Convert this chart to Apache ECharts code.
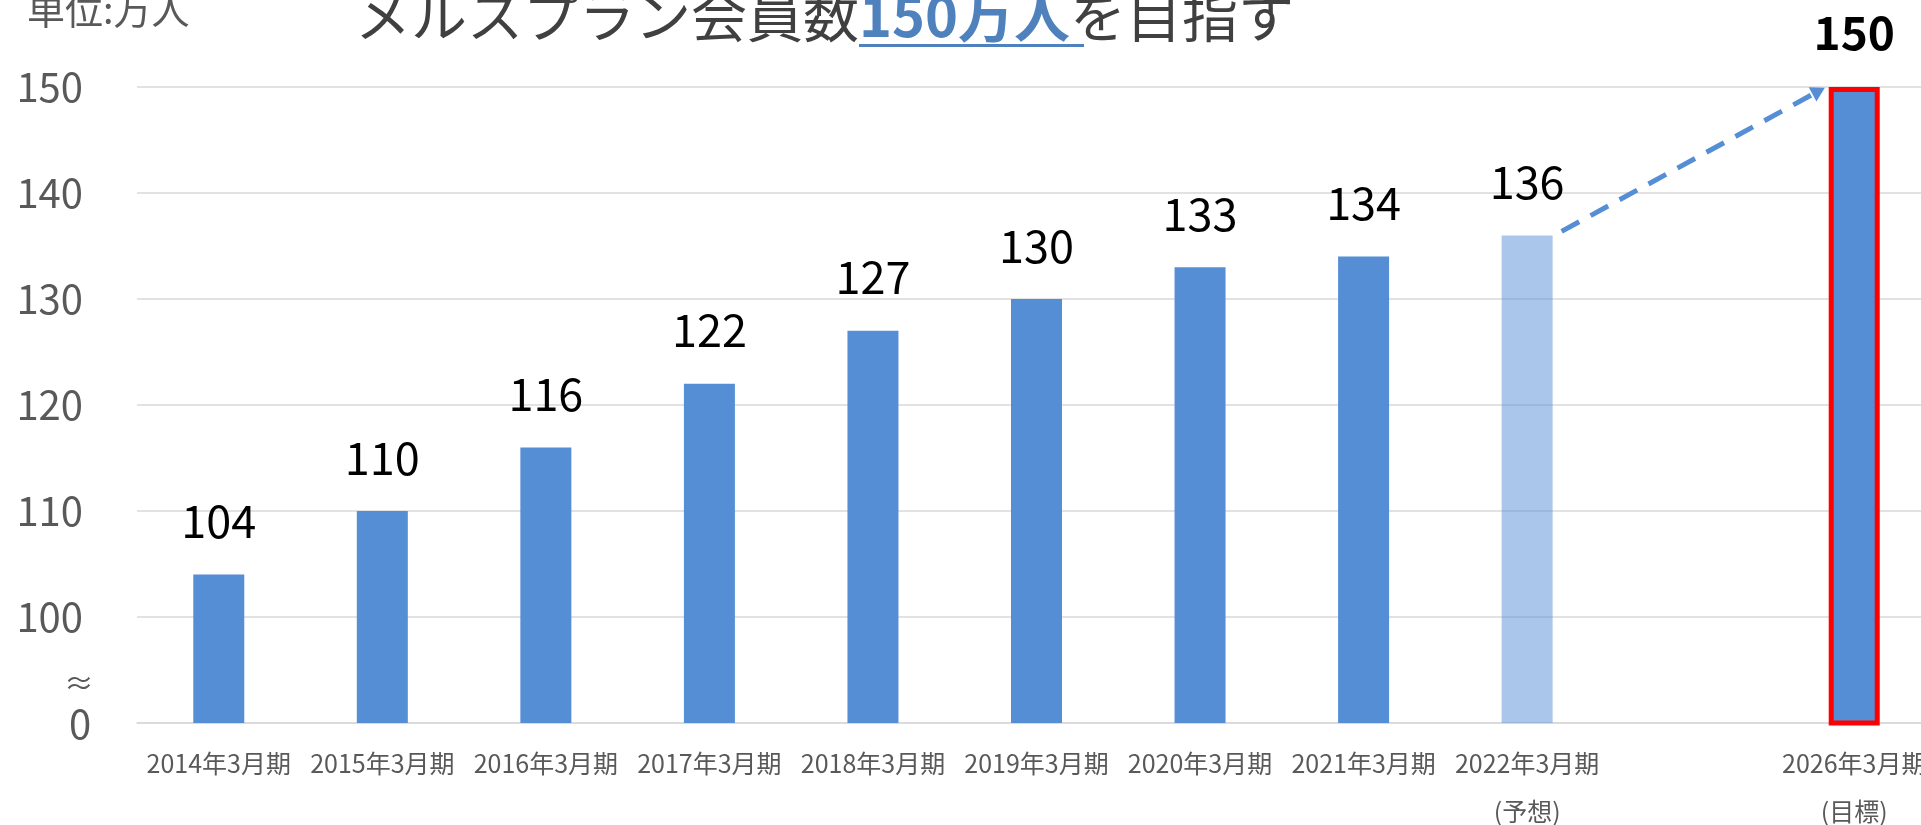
<!DOCTYPE html>
<html>
<head>
<meta charset="utf-8">
<script src="https://cdn.jsdelivr.net/npm/echarts@6/dist/echarts.min.js"></script>
<style>
  html, body { margin: 0; padding: 0; background: #fff; }
  #chart { width: 1921px; height: 825px; }
</style>
</head>
<body>
<div id="chart"></div>
<script>
// Member count by fiscal period (unit: 10k people)
const categories = ['2014年3月期', '2015年3月期', '2016年3月期', '2017年3月期', '2018年3月期',
    '2019年3月期', '2020年3月期', '2021年3月期', '2022年3月期\n(予想)', '', '2026年3月期\n(目標)'];
const members = [104, 110, 116, 122, 127, 130, 133, 134, 136, null, 150];
const forecastIdx = 8;
const targetIdx = 10;

const BLUE = '#558ED5';
const BAR_W = 51;

const el = document.getElementById('chart');
const chart = echarts.init(el);

const seriesData = members.map((v, i) => {
    if (i === forecastIdx) return { value: v, itemStyle: { color: 'rgba(85,142,213,0.5)' } };
    if (i === targetIdx) {
        return {
            value: v,
            itemStyle: { color: BLUE, borderColor: '#FF0000', borderWidth: 5 },
            label: { fontWeight: 'bold', fontSize: 46 }
        };
    }
    return v;
});

const option = {
    animation: false,
    textStyle: { fontFamily: '"Noto Sans CJK JP", "Noto Sans", sans-serif' },
    grid: {
        left: 137,
        right: -15,
        top: 87,
        bottom: 102,
        outerBoundsMode: 'none'
    },
    xAxis: {
        type: 'category',
        data: categories,
        axisTick: { show: false },
        axisLine: { lineStyle: { color: '#D9D9D9', width: 1.5 } },
        axisLabel: {
            interval: 0,
            color: '#595959',
            fontSize: 25,
            lineHeight: 48,
            margin: 16
        }
    },
    yAxis: {
        type: 'value',
        min: 90,
        max: 150,
        interval: 10,
        axisLine: { show: false },
        axisTick: { show: false },
        splitLine: { lineStyle: { color: '#D9D9D9', width: 1.5 } },
        axisLabel: {
            color: '#595959',
            fontSize: 40,
            margin: 54,
            // bottom tick is the broken-axis "0", drawn separately with the ≈ mark
            formatter: v => (v === 90 ? '' : String(v))
        }
    },
    series: [{
        type: 'bar',
        barWidth: BAR_W,
        data: seriesData,
        itemStyle: { color: BLUE },
        label: {
            show: true,
            position: 'top',
            distance: 31,
            color: '#000',
            fontSize: 45
        }
    }]
};

chart.setOption(option);

// dashed arrow from forecast bar to target bar, plus decorations
const p1 = chart.convertToPixel({ gridIndex: 0 }, [forecastIdx, members[forecastIdx]]);
const p2 = chart.convertToPixel({ gridIndex: 0 }, [targetIdx, members[targetIdx]]);
const x1 = p1[0] + BAR_W / 2 + 9, y1 = p1[1] - 4;
const x2 = p2[0] - BAR_W / 2 - 10, y2 = p2[1] + 4;
const base = chart.convertToPixel({ yAxisIndex: 0 }, 90);

chart.setOption({
    series: [{
        markLine: {
            silent: true,
            symbol: ['none', 'triangle'],
            symbolSize: [16, 14],
            label: { show: false },
            lineStyle: { color: BLUE, width: 5, type: [20, 13] },
            data: [[{ x: x1, y: y1 }, { x: x2, y: y2 }]]
        }
    }],
    graphic: [
        {
            type: 'text',
            left: 27,
            top: -9,
            style: { text: '単位:万人', fill: '#595959', font: '38px "Noto Sans CJK JP"' }
        },
        {
            type: 'text',
            x: 355,
            y: 16,
            style: {
                text: '{n|メルスプラン会員数}{b|150万人}{n|を目指す}',
                verticalAlign: 'middle',
                rich: {
                    n: { fill: '#404040', fontSize: 56, fontFamily: '"Noto Sans CJK JP"' },
                    b: { fill: '#4F81BD', fontSize: 56, fontWeight: 'bold', fontFamily: '"Noto Sans CJK JP"' }
                }
            }
        },
        {
            type: 'rect',
            shape: { x: 859, y: 44, width: 225, height: 3 },
            style: { fill: '#4F81BD' }
        },
        {
            type: 'text',
            x: 79,
            y: base - 40,
            style: {
                text: '≈',
                fill: '#595959',
                font: '30px "Noto Sans CJK JP"',
                align: 'center',
                verticalAlign: 'middle'
            }
        },
        {
            type: 'text',
            x: 80,
            y: base + 1,
            style: {
                text: '0',
                fill: '#595959',
                font: '40px "Noto Sans CJK JP"',
                align: 'center',
                verticalAlign: 'middle'
            }
        }
    ]
});

window.addEventListener('resize', () => chart.resize());
</script>
</body>
</html>
